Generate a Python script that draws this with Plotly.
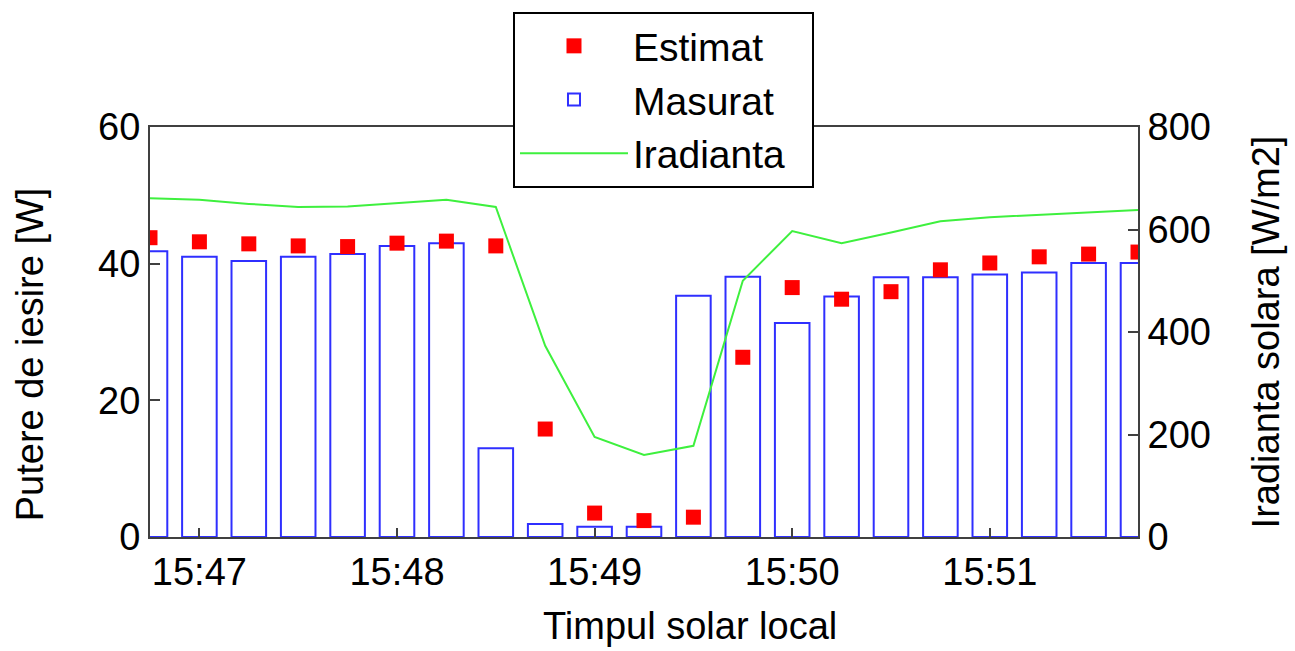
import plotly.graph_objects as go

# ---- data ----
day = "2024-01-01 "
times = ["15:46:45", "15:47:00", "15:47:15", "15:47:30", "15:47:45",
         "15:48:00", "15:48:15", "15:48:30", "15:48:45", "15:49:00",
         "15:49:15", "15:49:30", "15:49:45", "15:50:00", "15:50:15",
         "15:50:30", "15:50:45", "15:51:00", "15:51:15", "15:51:30",
         "15:51:45"]
measured = [41.8, 41.0, 40.4, 41.0, 41.4, 42.6, 43.0, 13.0, 1.9, 1.5,
            1.5, 35.3, 38.1, 31.3, 35.2, 38.0, 38.0, 38.4, 38.7, 40.1, 40.1]
estimated = [43.8, 43.2, 42.9, 42.6, 42.5, 43.0, 43.3, 42.6, 15.8, 3.5,
             2.4, 2.9, 26.3, 36.5, 34.8, 35.9, 39.1, 40.1, 41.0, 41.4, 41.7]
irradiance = [661, 658, 650, 644, 645, 652, 658, 644, 373, 195,
              160, 178, 500, 597, 573, 594, 616, 624, 629, 633, 638]
tick_times = ["15:47:00", "15:48:00", "15:49:00", "15:50:00", "15:51:00"]
tick_labels = ["15:47", "15:48", "15:49", "15:50", "15:51"]
x_range = ["15:46:45", "15:51:45"]

x = [day + t for t in times]
FONT = "Liberation Sans, Arial, sans-serif"
AX = "#404040"
PAD = "\u00a0\u00a0"

fig = go.Figure()
fig.add_trace(go.Bar(
    x=x, y=measured, name="Masurat", width=10500,
    marker=dict(color="rgba(255,255,255,0)", line=dict(color="#2f2fff", width=2)),
    legendrank=2, yaxis="y"))
fig.add_trace(go.Scatter(
    x=x, y=estimated, name="Estimat", mode="markers",
    marker=dict(symbol="square", size=15, color="#ff0000"),
    legendrank=1, yaxis="y"))
fig.add_trace(go.Scatter(
    x=x, y=irradiance, name="Iradianta" + PAD, mode="lines",
    line=dict(color="#3ef03e", width=2),
    legendrank=3, yaxis="y2"))

fig.update_layout(
    width=1295, height=651,
    margin=dict(l=150, r=157, t=127, b=114),
    paper_bgcolor="white", plot_bgcolor="white",
    font=dict(family=FONT, size=38, color="black"),
    showlegend=True,
    legend=dict(x=0.3674, y=1.2805, xanchor="left", yanchor="top",
                bgcolor="white", bordercolor="black", borderwidth=2,
                font=dict(size=39), itemwidth=108),
    xaxis=dict(type="date", range=[day + x_range[0], day + x_range[1]],
               tickvals=[day + t for t in tick_times], ticktext=tick_labels,
               ticks="inside", ticklen=9, tickwidth=2, tickcolor=AX,
               showline=True, linecolor=AX, linewidth=2, mirror=True,
               showgrid=False, zeroline=False,
               tickfont=dict(size=38)),
    yaxis=dict(range=[0, 60], tickvals=[0, 20, 40, 60],
               ticks="inside", ticklen=10, tickwidth=2, tickcolor=AX,
               showline=True, linecolor=AX, linewidth=2,
               showgrid=False, zeroline=False, tickfont=dict(size=38)),
    yaxis2=dict(range=[0, 800], tickvals=[0, 200, 400, 600, 800],
                overlaying="y", side="right",
                ticks="inside", ticklen=10, tickwidth=2, tickcolor=AX,
                showline=True, linecolor=AX, linewidth=2,
                showgrid=False, zeroline=False, tickfont=dict(size=38),
                title=dict(text="Iradianta solara [W/m2]", font=dict(size=38), standoff=42)),
    annotations=[
        dict(text="Timpul solar local", xref="paper", yref="paper",
             x=0.5466, y=-0.16, xanchor="center", yanchor="top",
             showarrow=False, font=dict(size=38)),
        dict(text="Putere de iesire [W]", xref="paper", yref="paper",
             x=-0.145, y=0.445, xanchor="left", yanchor="middle", textangle=-90,
             showarrow=False, font=dict(size=38)),
    ],
)

fig.write_html("out.html")
